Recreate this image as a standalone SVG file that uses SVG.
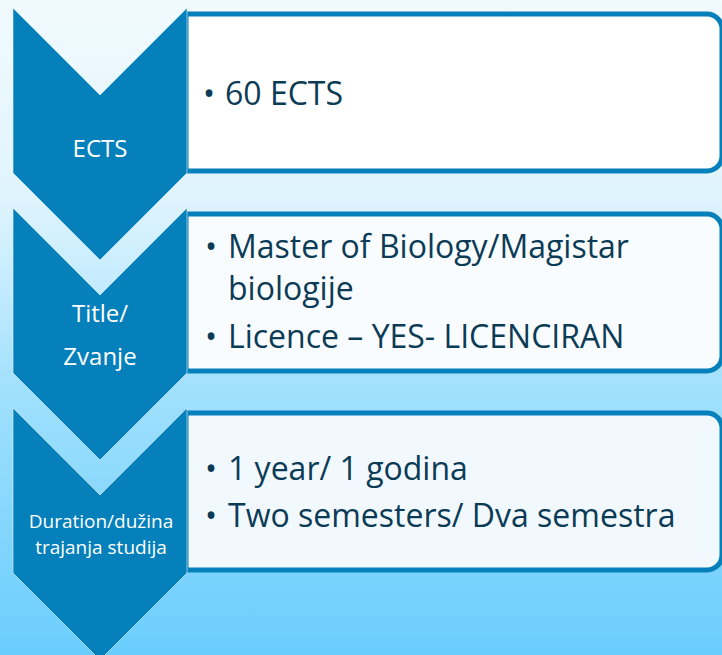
<svg xmlns="http://www.w3.org/2000/svg" width="722" height="655" viewBox="0 0 722 655">
  <defs>
    <linearGradient id="bg" x1="0" y1="0" x2="0" y2="1">
      <stop offset="0" stop-color="#f1fafe"/>
      <stop offset="0.3" stop-color="#e0f4fd"/>
      <stop offset="0.6" stop-color="#a0e0fd"/>
      <stop offset="1" stop-color="#6acdfd"/>
    </linearGradient>
  </defs>
  <style>
    .chev { fill: #0580bb; stroke: #e6f5fc; stroke-width: 1; stroke-opacity: 0.6; }
    .box { stroke: #0580bb; stroke-width: 5; }
    .lbl { font-family: "Open Sans", "Noto Sans", sans-serif; fill: #ffffff; text-anchor: middle; }
    .item { font-family: "Open Sans", "Noto Sans", sans-serif; fill: #0c3b56; font-size: 32px; }
  </style>
  <rect x="0" y="0" width="722" height="655" fill="url(#bg)"/>
  <g id="connectors"/>

  <g id="box1">
    <path class="box" fill="#ffffff" d="M186,14 H707 A15,15 0 0 1 722,29 V156 A15,15 0 0 1 707,171 H186 Z"/>
    <text class="item" y="105"><tspan x="203">•</tspan><tspan x="225">60 ECTS</tspan></text>
  </g>
  <g id="box2">
    <path class="box" fill="#f8fcff" d="M186,214 H707 A15,15 0 0 1 722,229 V356 A15,15 0 0 1 707,371 H186 Z"/>
    <text class="item" y="258"><tspan x="205">•</tspan><tspan x="228">Master of Biology/Magistar</tspan></text>
    <text class="item" x="228" y="300">biologije</text>
    <text class="item" y="348"><tspan x="205">•</tspan><tspan x="228">Licence – YES- LICENCIRAN</tspan></text>
  </g>
  <g id="box3">
    <path class="box" fill="#f1f9fe" d="M186,413 H707 A15,15 0 0 1 722,428 V555 A15,15 0 0 1 707,570 H186 Z"/>
    <text class="item" y="480"><tspan x="205">•</tspan><tspan x="228">1 year/ 1 godina</tspan></text>
    <text class="item" y="527"><tspan x="205">•</tspan><tspan x="228">Two semesters/ Dva semestra</tspan></text>
  </g>

  <g id="chevron1">
    <path class="chev" d="M13,8 L100,95 L187,8 V173 L100,260 L13,173 Z"/>
    <text class="lbl" x="100" y="157" font-size="24">ECTS</text>
  </g>
  <g id="chevron2">
    <path class="chev" d="M13,208 L100,295 L187,208 V373 L100,460 L13,373 Z"/>
    <text class="lbl" x="100" y="322" font-size="24">Title/</text>
    <text class="lbl" x="100" y="365" font-size="24">Zvanje</text>
  </g>
  <g id="chevron3">
    <path class="chev" d="M13,408 L100,495 L187,408 V573 L100,660 L13,573 Z"/>
    <text class="lbl" x="101" y="528" font-size="19">Duration/dužina</text>
    <text class="lbl" x="101" y="554" font-size="19">trajanja studija</text>
  </g>
</svg>
